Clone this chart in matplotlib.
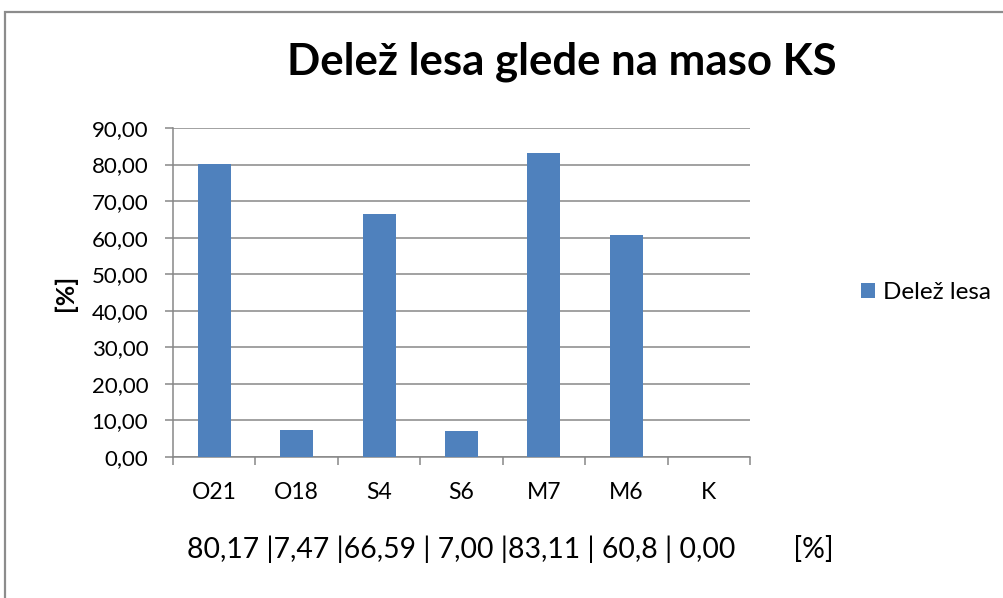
import matplotlib
matplotlib.use("Agg")
from matplotlib import pyplot as plt
from matplotlib.patches import Rectangle
from matplotlib.ticker import FuncFormatter, FixedLocator
import numpy as np

# share of wood per sample
categories = ["O21", "O18", "S4", "S6", "M7", "M6", "K"]
values = [80.17, 7.47, 66.59, 7.00, 83.11, 60.8, 0.00]
summary_text = "80,17 |7,47 |66,59 | 7,00 |83,11 | 60,8 | 0,00        [%]"
title = "Delež lesa glede na maso KS"
series_name = "Delež lesa"

bar_color = "#4F81BD"
grid_color = "#878787"

plt.rcParams["font.family"] = ["Lato", "DejaVu Sans"]

W, H = 1004, 598
fig = plt.figure(figsize=(W / 100, H / 100), dpi=100)

# chart area frame
fig.patches.append(Rectangle((5 / W, -0.05), 1.1, 1.05 - 12 / H,
                             transform=fig.transFigure, fill=False,
                             edgecolor="#8c8c8c", linewidth=1.6))

ax = fig.add_axes([173 / W, (H - 457) / H, 577 / W, 329 / H])
x = np.arange(len(categories))
ax.bar(x, values, width=0.4, color=bar_color, label=series_name, zorder=3)

ax.set_xlim(-0.5, len(categories) - 0.5)
ax.set_ylim(0, 90)
ax.set_yticks(np.arange(0, 91, 10))
ax.yaxis.set_major_formatter(FuncFormatter(lambda v, p: f"{v:.2f}".replace(".", ",")))
ax.grid(axis="y", color=grid_color, linewidth=1.1, zorder=0)

ax.set_xticks(x)
ax.set_xticklabels(categories, fontsize=16.5)
ax.xaxis.set_minor_locator(FixedLocator(np.arange(-0.5, len(categories), 1.0)))
ax.tick_params(axis="x", which="major", length=0, pad=18)
ax.tick_params(axis="x", which="minor", length=6, width=1.1, color=grid_color)
ax.tick_params(axis="y", length=5.8, width=1.1, color=grid_color, labelsize=16, pad=12)

for side in ["top", "right"]:
    ax.spines[side].set_visible(False)
for side in ["left", "bottom"]:
    ax.spines[side].set_color(grid_color)
    ax.spines[side].set_linewidth(1.1)

fig.text(65 / W, 1 - 293 / H, "[%]", fontsize=18, fontweight="bold",
         rotation=90, ha="center", va="center")
fig.text(187 / W, 1 - 549 / H, summary_text, fontsize=20.4,
         ha="left", va="center")

fig.text(562 / W, 1 - 75 / H, title, fontsize=31.5, fontweight="bold",
         ha="center", va="baseline")

ax.legend(loc="center left", bbox_to_anchor=(1.155, 0.5), frameon=False,
          fontsize=17.5, handlelength=0.55, handleheight=0.55, handletextpad=0.35)

fig.savefig("out.png", dpi=100)
